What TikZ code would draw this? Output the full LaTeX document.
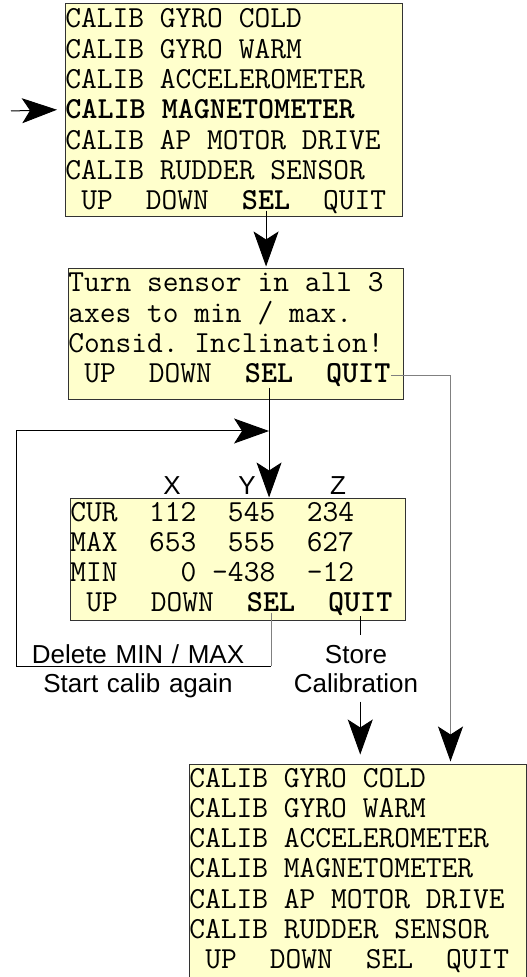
\documentclass[tikz,border=0pt]{standalone}
\usepackage{fontspec}
\setsansfont{Liberation Sans}
\usetikzlibrary{positioning,arrows.meta}

\definecolor{lcdback}{HTML}{FFFFCC}
\definecolor{wiregray}{HTML}{808080}

\tikzset{
  lcd/.style={draw=black!80, fill=lcdback, line width=0.5pt, inner sep=0pt},
  row/.style={anchor=base west, inner sep=0pt,
    font=\ttfamily\frenchspacing\fontsize{15.3}{17}\selectfont},
  key/.style={row, base right=16.08pt of #1},
  sanstext/.style={font=\sffamily\fontsize{13}{14.5}\selectfont},
  axisname/.style={sanstext, anchor=base, inner sep=0pt},
  note/.style={sanstext, anchor=base, text width=110pt, align=center},
  flow/.style={line width=0.5pt},
  big/.style={-{Stealth[length=17.5pt,width=12.5pt,inset=4pt,color=black]}}
}

\begin{document}
\begin{tikzpicture}[x=0.5pt,y=-0.5pt]
      \useasboundingbox (0,0) rectangle (526,977);

      % calibration menu
      \node (menuA) at (233.5,110.5) [lcd, minimum width=168.5pt,
      minimum height=106.5pt] {};

      \foreach \txt [count=\i] in {CALIB GYRO COLD,CALIB GYRO WARM,
        CALIB ACCELEROMETER,\textbf{CALIB MAGNETOMETER},
        CALIB AP MOTOR DRIVE,CALIB RUDDER SENSOR}
        \node (lineA\i) at (65,-2.3+30.3*\i) [row] {\txt};

      \node (upA) at (81.08,209.8) [row] {UP};
      \node (downA) [key=upA] {DOWN};
      \node (selA) [key=downA] {\textbf{SEL}};
      \node (quitA) [key=selA] {QUIT};

      % instruction screen
      \node (menuB) at (235.5,334.5) [lcd, minimum width=167.5pt,
      minimum height=65.5pt] {};

      \node (lineB1) at (68,292) [row] {Turn sensor in all 3};
      \node (lineB2) at (68,322.3) [row] {axes to min / max.};
      \node (lineB3) at (68,352.6) [row] {Consid. Inclination!};

      \node (upB) at (84.08,382.9) [row] {UP};
      \node (downB) [key=upB] {DOWN};
      \node (selB) [key=downB] {\textbf{SEL}};
      \node (quitB) [key=selB] {\textbf{QUIT}};

      % values screen
      \node (menuC) at (237.5,559) [lcd, minimum width=167.5pt,
      minimum height=61pt] {};

      \node (axisX) at (172,494) [axisname] {X};
      \node (axisY) at (247,494) [axisname] {Y};
      \node (axisZ) at (338,494) [axisname] {Z};

      \node (lineC1) at (70,521) [row] {CUR~~112~~545~~234};
      \node (lineC2) at (70,551.3) [row] {MAX~~653~~555~~627};
      \node (lineC3) at (70,581.6) [row] {MIN~~~~0 -438~~-12};

      \node (upC) at (86.08,611.9) [row] {UP};
      \node (downC) [key=upC] {DOWN};
      \node (selC) [key=downC] {\textbf{SEL}};
      \node (quitC) [key=selC] {\textbf{QUIT}};

      \node (retry) at (138,663) [note] {Delete MIN / MAX\\Start calib again};
      \node (store) at (356,663) [note, inner ysep=4.5pt] {Store\\Calibration};

      % back in the menu
      \node (menuD) at (357.5,870.5) [lcd, minimum width=168.5pt,
      minimum height=106.5pt] {};

      \foreach \txt [count=\i] in {CALIB GYRO COLD,CALIB GYRO WARM,
        CALIB ACCELEROMETER,CALIB MAGNETOMETER,
        CALIB AP MOTOR DRIVE,CALIB RUDDER SENSOR}
        \node (lineD\i) at (189,756.7+30.3*\i) [row] {\txt};

      \node (upD) at (205.08,968.8) [row] {UP};
      \node (downD) [key=upD] {DOWN};
      \node (selD) [key=downD] {SEL};
      \node (quitD) [key=selD] {QUIT};

      % connectors
      \coordinate (pointer) at (11,111);
      \coordinate (rejoin) at (selB |- 0,431);
      \coordinate (loopturn) at (selC.south |- 0,666);

      \draw[flow, big, shorten >=4pt] (pointer) -- (lineA4.west);

      \draw[flow, big, shorten >=1pt] (selA.south) -- (selA |- menuB.north);

      \draw[flow, big, shorten <=2pt] (selB.south) -- (selB |- menuC.north);

      \draw[flow, wiregray] (selC.south) -- (loopturn);

      \draw[flow, big] (loopturn) -- (16,666) |- (rejoin);

      \draw[flow] (quitC.south) -- (quitC |- store.north);

      \draw[flow, big, shorten >=4.5pt] (quitC |- store.south) -- (quitC |- menuD.north);

      \draw[flow, wiregray, big, shorten >=1pt] (quitB.east) -| ([xshift=-38pt]menuD.north east);
\end{tikzpicture}
\end{document}
